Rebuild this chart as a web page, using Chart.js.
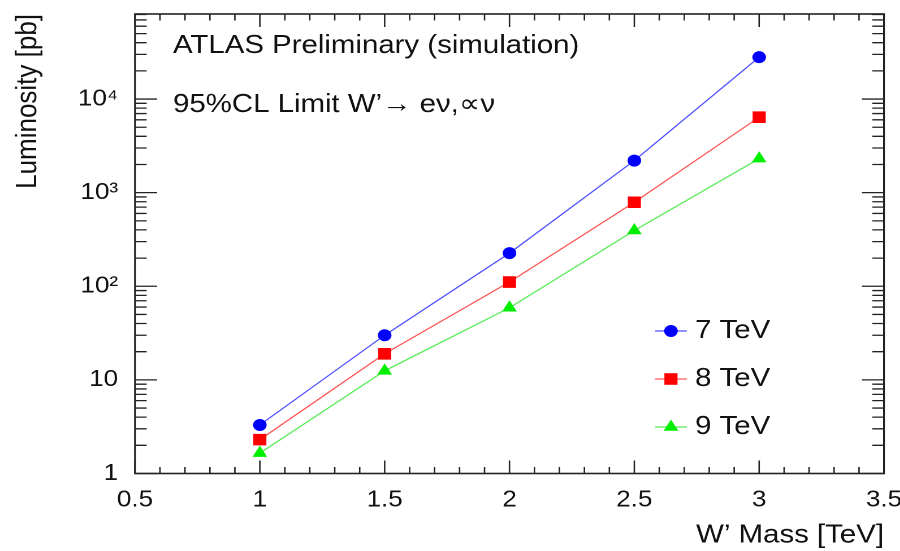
<!DOCTYPE html>
<html>
<head>
<meta charset="utf-8">
<title>W' luminosity limit</title>
<script src="https://cdn.jsdelivr.net/npm/chart.js@4.4.1/dist/chart.umd.min.js"></script>
<style>
  html, body { margin: 0; padding: 0; background: #fff; overflow: hidden; }
  /* the plot is laid out narrower and stretched sideways, like the original export */
  #wrap { width: 796px; height: 551px; transform: scaleX(1.1307); transform-origin: 0 0; }
</style>
</head>
<body>
<div id="wrap"><canvas id="limitChart"></canvas></div>
<script>
// W' mass points [TeV]
const masses = [1, 1.5, 2, 2.5, 3];
// luminosity needed for a 95% CL limit [pb^-1]
const lumi7TeV = [3.3, 30, 226, 2200, 28000];
const lumi8TeV = [2.3, 19, 111, 790, 6400];
const lumi9TeV = [1.65, 12.5, 59, 394, 2310];
const seriesNames = ['7 TeV', '8 TeV', '9 TeV'];

const xTicks = [0.5, 1, 1.5, 2, 2.5, 3, 3.5];
const xTickLabels = ['0.5', '1', '1.5', '2', '2.5', '3', '3.5'];
const yDecades = [1, 10, 100, 1000, 10000];
const yDecadeLabels = ['1', '10', '10²', '10³', '10⁴'];

const FONT = '"Liberation Sans", Arial, Helvetica, sans-serif';
const INK = '#111';

function toPoints(values) {
    return masses.map((m, i) => ({ x: m, y: values[i] }));
}

// frame with inward ticks on all four sides
const frameTicks = {
    id: 'frameTicks',
    beforeDatasetsDraw(chart) {
        const { ctx, chartArea: a, scales: { x, y } } = chart;
        ctx.save();
        ctx.strokeStyle = '#222';
        ctx.lineWidth = 1.3;
        ctx.beginPath();

        const steps = Math.round((x.max - x.min) / 0.1);
        for (let i = 0; i <= steps; i++) {
            const px = x.getPixelForValue(x.min + i * 0.1);
            const len = i % 5 === 0 ? 13 : 6.5;
            ctx.moveTo(px, a.bottom); ctx.lineTo(px, a.bottom - len);
            ctx.moveTo(px, a.top); ctx.lineTo(px, a.top + len);
        }

        for (let d = 1; d <= y.max; d *= 10) {
            for (let k = 1; k <= 9; k++) {
                const v = k * d;
                if (v > y.max) break;
                const py = y.getPixelForValue(v);
                const len = k === 1 ? 19.5 : 10.3;
                ctx.moveTo(a.left, py); ctx.lineTo(a.left + len, py);
                ctx.moveTo(a.right, py); ctx.lineTo(a.right - len, py);
            }
        }
        ctx.stroke();

        ctx.lineWidth = 1.6;
        ctx.strokeRect(a.left, a.top, a.right - a.left, a.bottom - a.top);
        ctx.restore();
    }
};

// legend box inside the plot plus the two text lines at the top
const plotLabels = {
    id: 'plotLabels',
    afterDatasetsDraw(chart) {
        const { ctx, chartArea: a } = chart;
        ctx.save();
        ctx.fillStyle = INK;
        ctx.font = '26px ' + FONT;
        ctx.textAlign = 'left';
        ctx.textBaseline = 'alphabetic';
        ctx.fillText('ATLAS Preliminary (simulation)', a.left + 33.6, 53);
        ctx.fillText('95%CL Limit W’→ eν,∝ν', a.left + 33.6, 112);

        chart.data.datasets.forEach((ds, i) => {
            const cx = a.left + 474;
            const cy = a.top + 317 + i * 48;
            ctx.strokeStyle = ds.borderColor;
            ctx.lineWidth = ds.borderWidth;
            ctx.beginPath();
            ctx.moveTo(cx - 14, cy);
            ctx.lineTo(cx + 14, cy);
            ctx.stroke();

            ctx.fillStyle = ds.pointBackgroundColor;
            Chart.helpers.drawPoint(ctx, {
                pointStyle: ds.pointStyle, radius: ds.pointRadius, rotation: 0, borderWidth: 0
            }, cx, cy);

            ctx.fillStyle = INK;
            ctx.textBaseline = 'middle';
            ctx.fillText(ds.label, a.left + 495.3, cy);
        });
        ctx.restore();
    }
};

function series(label, values, line, marker, style, radius) {
    return {
        label: label,
        data: toPoints(values),
        borderColor: line,
        borderWidth: 1.2,
        pointStyle: style,
        pointRadius: radius,
        pointHoverRadius: radius,
        pointBackgroundColor: marker,
        pointBorderWidth: 0,
        tension: 0,
        fill: false
    };
}

new Chart(document.getElementById('limitChart').getContext('2d'), {
    type: 'line',
    data: {
        datasets: [
            series(seriesNames[0], lumi7TeV, 'rgb(80,80,255)', '#0000ff', 'circle', 6),
            series(seriesNames[1], lumi8TeV, 'rgb(255,85,85)', '#ff0000', 'rect', 8.2),
            series(seriesNames[2], lumi9TeV, 'rgb(85,235,85)', '#00ee00', 'triangle', 7.5)
        ]
    },
    options: {
        responsive: true,
        maintainAspectRatio: false,
        devicePixelRatio: 2,
        animation: false,
        layout: { padding: { left: 4, right: 14.2, top: 14, bottom: 0 } },
        plugins: {
            legend: { display: false },
            tooltip: { enabled: false }
        },
        scales: {
            x: {
                type: 'linear',
                min: 0.5,
                max: 3.5,
                afterBuildTicks: s => { s.ticks = xTicks.map(v => ({ value: v })); },
                afterFit: s => { s.height = 77.5; s.paddingLeft = 0; s.paddingRight = 0; },
                grid: { display: false },
                border: { display: false },
                ticks: {
                    maxRotation: 0,
                    autoSkip: false,
                    padding: 5,
                    color: INK,
                    font: { family: FONT, size: 23 },
                    callback: v => {
                        const i = xTicks.indexOf(v);
                        return i < 0 ? '' : xTickLabels[i];
                    }
                },
                title: {
                    display: true,
                    text: 'W’ Mass [TeV]',
                    align: 'end',
                    color: INK,
                    font: { family: FONT, size: 26 },
                    padding: { top: 0, bottom: 0 }
                }
            },
            y: {
                type: 'logarithmic',
                min: 1,
                max: 81000,
                afterBuildTicks: s => { s.ticks = yDecades.map(v => ({ value: v })); },
                afterFit: s => { s.width = 115.4; s.paddingTop = 0; s.paddingBottom = 0; },
                grid: { display: false },
                border: { display: false },
                ticks: {
                    autoSkip: false,
                    padding: 7,
                    color: INK,
                    font: { family: FONT, size: 23 },
                    callback: v => {
                        const i = yDecades.indexOf(v);
                        return i < 0 ? '' : yDecadeLabels[i];
                    }
                },
                title: {
                    display: true,
                    text: 'Luminosity [pb]',
                    align: 'end',
                    color: INK,
                    font: { family: FONT, size: 26 },
                    padding: { top: 5, bottom: 0 }
                }
            }
        }
    },
    plugins: [frameTicks, plotLabels]
});
</script>
</body>
</html>
